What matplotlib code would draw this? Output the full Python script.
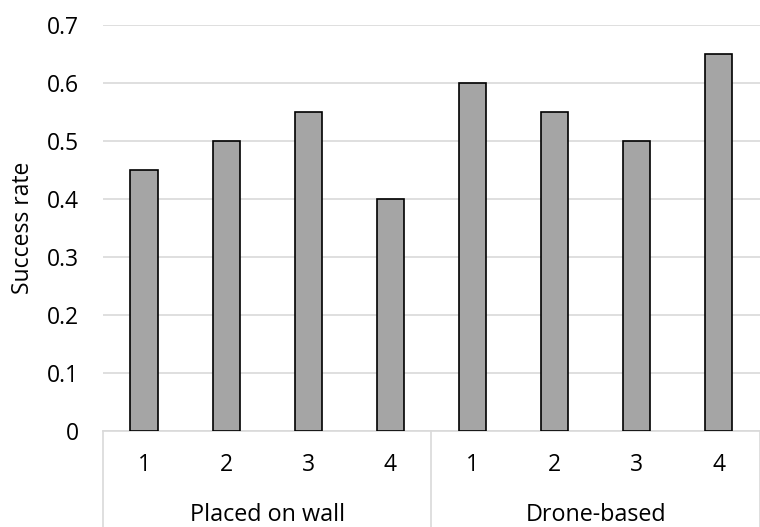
import numpy as np
import matplotlib.pyplot as plt
from matplotlib.transforms import blended_transform_factory

# Данные
groups = ['Placed on wall', 'Drone-based']
positions = ['1', '2', '3', '4']
wall_rates = [0.45, 0.50, 0.55, 0.40]
drone_rates = [0.60, 0.55, 0.50, 0.65]

plt.rcParams['font.family'] = ['Open Sans', 'DejaVu Sans']

values = wall_rates + drone_rates
labels = positions + positions
x = np.arange(len(values))

fig = plt.figure(figsize=(7.6, 5.27), dpi=100)
ax = fig.add_axes([0.1355, 0.182, 0.8645, 0.7706])

ax.bar(x, values, width=0.33, color='#A5A5A5', edgecolor='black', linewidth=1.2, zorder=3)

ax.set_xlim(-0.5, len(values) - 0.5)
ax.set_ylim(0, 0.7)
ax.set_yticks(np.arange(0, 0.71, 0.1))
ax.set_yticklabels(['0'] + ['%.1f' % v for v in np.arange(0.1, 0.71, 0.1)])
ax.yaxis.grid(True, color='#D9D9D9', linewidth=1.2, zorder=0)
ax.tick_params(axis='y', length=0, labelsize=16.5, pad=17)
ax.set_ylabel('Success rate', fontsize=16.5)
ax.yaxis.set_label_coords(-0.104, 0.5)

for s in ['top', 'right', 'left']:
    ax.spines[s].set_visible(False)
ax.spines['bottom'].set_color('#D9D9D9')
ax.spines['bottom'].set_linewidth(1.2)

ax.set_xticks(x)
ax.set_xticklabels(labels, fontsize=16.5)
ax.tick_params(axis='x', length=0, pad=16)

# Второй уровень подписей
tr = blended_transform_factory(ax.transData, fig.transFigure)
for i, g in enumerate(groups):
    ax.text(i * 4 + 1.5, 0.022, g, transform=tr, ha='center', va='center', fontsize=16.8)

bottom = ax.get_position().y0
for xs in [-0.5, 3.5, 7.5]:
    ax.plot([xs, xs], [0, bottom], transform=tr, color='#D9D9D9', linewidth=1.2, clip_on=False)

fig.savefig('out.png', dpi=100)
